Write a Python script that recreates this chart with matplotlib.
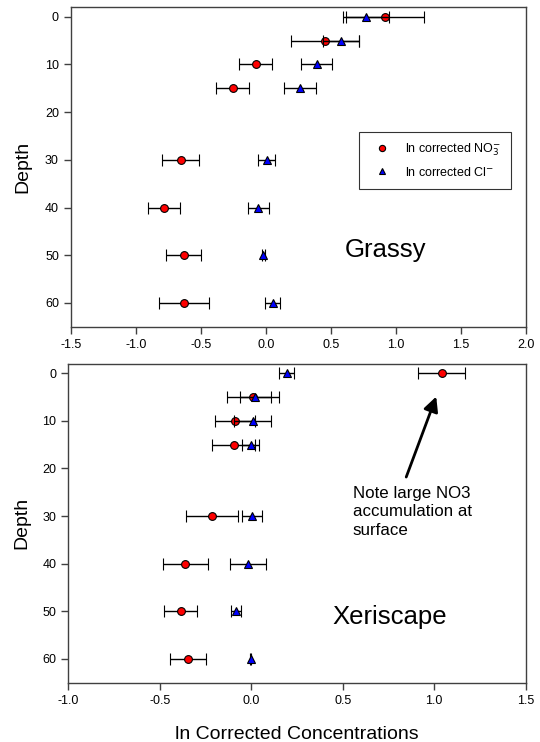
import matplotlib
matplotlib.use("Agg")
import matplotlib.pyplot as plt

plt.rcParams['font.family'] = ['Liberation Sans', 'DejaVu Sans']

depth = [0, 5, 10, 15, 30, 40, 50, 60]

# Grassy
g_no3 = [0.918, 0.456, -0.077, -0.254, -0.654, -0.782, -0.631, -0.628]
g_no3_err = [0.30, 0.26, 0.127, 0.125, 0.144, 0.126, 0.136, 0.19]
g_cl = [0.772, 0.577, 0.392, 0.262, 0.008, -0.056, -0.018, 0.054]
g_cl_err = [0.177, 0.14, 0.12, 0.125, 0.064, 0.08, 0.01, 0.056]

# Xeriscape
x_no3 = [1.04, 0.009, -0.087, -0.097, -0.215, -0.361, -0.385, -0.346]
x_no3_err = [0.127, 0.14, 0.11, 0.12, 0.14, 0.124, 0.09, 0.097]
x_cl = [0.193, 0.022, 0.007, -0.002, 0.002, -0.018, -0.082, -0.004]
x_cl_err = [0.04, 0.086, 0.102, 0.046, 0.055, 0.1, 0.027, 0.005]

top_xticks = [-1.5, -1.0, -0.5, 0.0, 0.5, 1.0, 1.5, 2.0]
bot_xticks = [-1.0, -0.5, 0.0, 0.5, 1.0, 1.5]
yticks = [0, 10, 20, 30, 40, 50, 60]

fig = plt.figure(figsize=(5.4, 7.42), dpi=100)
ax1 = fig.add_axes([0.131, 0.5597, 0.8426, 0.4305])
ax2 = fig.add_axes([0.1265, 0.0799, 0.847, 0.4299])

frame_col = '#404040'

def style(ax, xticks):
    ax.set_ylim(65, -2)
    ax.set_xlim(xticks[0], xticks[-1])
    ax.set_xticks(xticks)
    ax.set_xticklabels([f"{t:.1f}" for t in xticks])
    ax.set_yticks(yticks)
    for s in ax.spines.values():
        s.set_color(frame_col)
        s.set_linewidth(1.0)
    ax.tick_params(axis='both', direction='out', length=5, width=1,
                   color=frame_col, labelsize=9, top=False, right=False)
    ax.set_ylabel('Depth', fontsize=14)

def plot_panel(ax, no3, no3e, cl, cle):
    h1 = ax.errorbar(no3, depth, xerr=no3e, fmt='o', ms=5.6, mfc='#ff0000',
                     mec='black', mew=0.8, ecolor='black', elinewidth=1,
                     capsize=4.5, capthick=1, zorder=3)
    h2 = ax.errorbar(cl, depth, xerr=cle, fmt='^', ms=6.2, mfc='#0000ff',
                     mec='black', mew=0.8, ecolor='black', elinewidth=1,
                     capsize=4.5, capthick=1, zorder=4)
    return h1, h2

h1, h2 = plot_panel(ax1, g_no3, g_no3_err, g_cl, g_cl_err)
plot_panel(ax2, x_no3, x_no3_err, x_cl, x_cl_err)

style(ax1, top_xticks)
style(ax2, bot_xticks)
ax1.yaxis.set_label_coords(-0.087, 0.5)
ax2.yaxis.set_label_coords(-0.082, 0.5)

leg = ax1.legend([h1[0], h2[0]],
                 [r'ln corrected NO$_3^{\mathrm{-}}$', r'ln corrected Cl$^{\mathrm{-}}$'],
                 loc='upper left', bbox_to_anchor=(0.634, 0.6105), fontsize=9,
                 frameon=True, fancybox=False, edgecolor='black', borderpad=0.8,
                 handletextpad=0.9, labelspacing=0.6, borderaxespad=0,
                 markerscale=0.8)
leg.get_frame().set_linewidth(0.8)

ax1.text(0.925, 48.9, 'Grassy', fontsize=18.5, ha='center', va='center')
ax2.text(0.756, 51.1, 'Xeriscape', fontsize=18.5, ha='center', va='center')

ax2.annotate('', xy=(1.011, 4.9), xytext=(0.847, 21.8),
             arrowprops=dict(arrowstyle='-|>', color='black', lw=2,
                             mutation_scale=22, shrinkA=0, shrinkB=0))
ax2.text(0.555, 23.6, 'Note large NO3\naccumulation at\nsurface', fontsize=12.2,
         ha='left', va='top', linespacing=1.32)

ax2.set_xlabel('ln Corrected Concentrations', fontsize=14, labelpad=14)

fig.savefig('out.png', dpi=100)
